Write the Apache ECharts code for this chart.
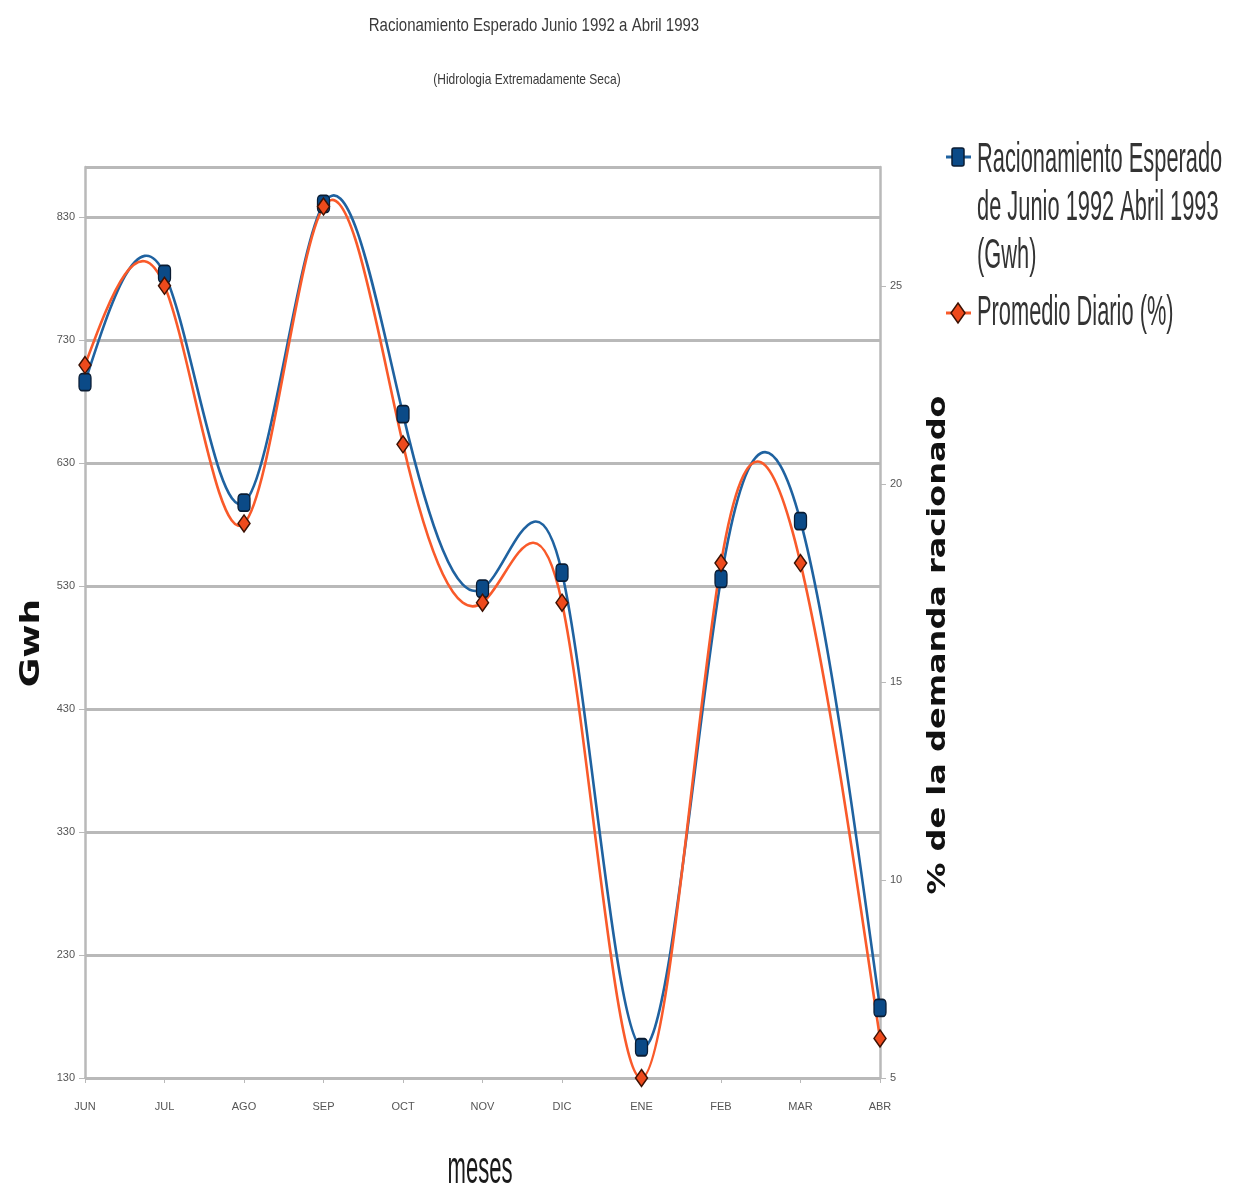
<!DOCTYPE html>
<html>
<head>
<meta charset="utf-8">
<title>Racionamiento Esperado Junio 1992 a Abril 1993</title>
<script src="https://cdn.jsdelivr.net/npm/echarts@6/dist/echarts.min.js"></script>
<style>
  html, body { margin: 0; padding: 0; background: #ffffff; }
  #chart { width: 1237px; height: 1189px; }
</style>
</head>
<body>
<div id="chart"></div>
<script>
// Months from June 1992 to April 1993
const months = ['JUN', 'JUL', 'AGO', 'SEP', 'OCT', 'NOV', 'DIC', 'ENE', 'FEB', 'MAR', 'ABR'];
// Expected rationing (GWh), left axis
const racionamientoGwh = [696, 784, 598, 841, 670, 528, 541, 155, 536, 583, 187];
// Daily average (% of demand rationed), right axis
const promedioDiario = [23, 25, 19, 27, 21, 17, 17, 5, 18, 18, 6];

const gwhAxis = { min: 130, max: 871, interval: 100 };
const pctAxis = { min: 5, max: 28, interval: 5 };

const serieGwh = 'Racionamiento Esperado de Junio 1992 Abril 1993 (Gwh)';
const seriePct = 'Promedio Diario (%)';

const BLUE_LINE = '#1f62a0';
const BLUE_MARK = '#0b4a87';
const ORANGE_LINE = '#f95a2a';
const ORANGE_MARK = '#ee4a1c';

// Natural cubic spline through screen points; returns bezier control points per segment
function splineBeziers(pts) {
  const n = pts.length;
  const x = pts.map(p => p[0]), y = pts.map(p => p[1]);
  const h = [];
  for (let i = 0; i < n - 1; i++) h.push(x[i + 1] - x[i]);
  const M = new Array(n).fill(0);
  if (n > 2) {
    const a = [], b = [], c = [], d = [];
    for (let i = 1; i < n - 1; i++) {
      a.push(h[i - 1]);
      b.push(2 * (h[i - 1] + h[i]));
      c.push(h[i]);
      d.push(6 * ((y[i + 1] - y[i]) / h[i] - (y[i] - y[i - 1]) / h[i - 1]));
    }
    const m = b.length;
    for (let i = 1; i < m; i++) {
      const w = a[i] / b[i - 1];
      b[i] -= w * c[i - 1];
      d[i] -= w * d[i - 1];
    }
    const sol = new Array(m);
    sol[m - 1] = d[m - 1] / b[m - 1];
    for (let i = m - 2; i >= 0; i--) sol[i] = (d[i] - c[i] * sol[i + 1]) / b[i];
    for (let i = 0; i < m; i++) M[i + 1] = sol[i];
  }
  const segs = [];
  for (let i = 0; i < n - 1; i++) {
    const hi = h[i];
    const dy = (y[i + 1] - y[i]) / hi;
    const m0 = dy - hi * (2 * M[i] + M[i + 1]) / 6;
    const m1 = dy + hi * (M[i] + 2 * M[i + 1]) / 6;
    segs.push({
      x1: x[i], y1: y[i],
      cpx1: x[i] + hi / 3, cpy1: y[i] + m0 * hi / 3,
      cpx2: x[i + 1] - hi / 3, cpy2: y[i + 1] - m1 * hi / 3,
      x2: x[i + 1], y2: y[i + 1]
    });
  }
  return segs;
}

function curveSeries(values, axisIndex, color) {
  return {
    type: 'custom',
    yAxisIndex: axisIndex,
    silent: true,
    z: 2,
    clip: false,
    data: values.map((v, i) => [i, v]),
    encode: { x: 0, y: 1 },
    renderItem: function (params, api) {
      const i = params.dataIndex;
      if (i >= values.length - 1) return null;
      const pts = values.map((v, j) => api.coord([j, v]));
      const s = splineBeziers(pts)[i];
      return {
        type: 'bezierCurve',
        shape: s,
        style: { stroke: color, lineWidth: 2.6, fill: null }
      };
    }
  };
}

const chart = echarts.init(document.getElementById('chart'), null, { renderer: 'canvas' });

const gridColor = '#b9b9b9';
const labelStyle = { color: '#555555', fontSize: 11, fontFamily: 'Liberation Sans, sans-serif' };

chart.setOption({
  animation: false,
  backgroundColor: '#ffffff',
  grid: { left: 85, right: 357, top: 167, bottom: 111, containLabel: false },
  xAxis: {
    type: 'category',
    data: months,
    boundaryGap: false,
    axisLine: { show: true, lineStyle: { color: gridColor, width: 2 } },
    axisTick: { show: true, length: 5, lineStyle: { color: gridColor, width: 1 } },
    axisLabel: Object.assign({ margin: 23 }, labelStyle),
    splitLine: { show: false }
  },
  yAxis: [
    {
      type: 'value',
      min: gwhAxis.min, max: gwhAxis.max, interval: gwhAxis.interval,
      position: 'left',
      axisLine: { show: true, lineStyle: { color: gridColor, width: 2.5 } },
      axisTick: { show: true, length: 6, lineStyle: { color: gridColor, width: 1 } },
      axisLabel: Object.assign({ margin: 10, showMaxLabel: false }, labelStyle),
      splitLine: { show: true, lineStyle: { color: gridColor, width: 3 } }
    },
    {
      type: 'value',
      min: pctAxis.min, max: pctAxis.max, interval: pctAxis.interval,
      position: 'right',
      axisLine: { show: true, lineStyle: { color: gridColor, width: 2.5 } },
      axisTick: { show: true, length: 6, lineStyle: { color: gridColor, width: 1 } },
      axisLabel: Object.assign({ margin: 10, showMaxLabel: false }, labelStyle),
      splitLine: { show: false }
    }
  ],
  series: [
    curveSeries(racionamientoGwh, 0, BLUE_LINE),
    curveSeries(promedioDiario, 1, ORANGE_LINE),
    {
      name: serieGwh,
      type: 'line',
      yAxisIndex: 0,
      z: 3,
      data: racionamientoGwh,
      symbol: 'roundRect',
      symbolSize: [12, 17],
      showAllSymbol: true,
      lineStyle: { width: 0, opacity: 0 },
      itemStyle: { color: BLUE_MARK, borderColor: '#0a1c33', borderWidth: 1.5 }
    },
    {
      name: seriePct,
      type: 'line',
      yAxisIndex: 1,
      z: 4,
      data: promedioDiario,
      symbol: 'diamond',
      symbolSize: [12, 17],
      showAllSymbol: true,
      lineStyle: { width: 0, opacity: 0 },
      itemStyle: { color: ORANGE_MARK, borderColor: '#3d1204', borderWidth: 1.5 }
    }
  ],
  graphic: [
    // chart title and subtitle
    {
      type: 'text', x: 534, y: 26, scaleX: 0.79,
      style: {
        text: 'Racionamiento Esperado Junio 1992 a Abril 1993',
        font: '19px "Liberation Sans"', fill: '#3a3a3a',
        align: 'center', verticalAlign: 'middle', textAlign: 'center', textVerticalAlign: 'middle'
      }
    },
    {
      type: 'text', x: 527, y: 80, scaleX: 0.8,
      style: {
        text: '(Hidrologia Extremadamente Seca)',
        font: '15px "Liberation Sans"', fill: '#3a3a3a',
        align: 'center', verticalAlign: 'middle', textAlign: 'center', textVerticalAlign: 'middle'
      }
    },
    // axis titles
    {
      type: 'text', x: 32, y: 643, rotation: Math.PI / 2, scaleY: 0.72,
      style: {
        text: 'Gwh', font: 'bold 36px "DejaVu Sans"', fill: '#111111',
        align: 'center', verticalAlign: 'middle', textAlign: 'center', textVerticalAlign: 'middle'
      }
    },
    {
      type: 'text', x: 938, y: 645, rotation: Math.PI / 2, scaleY: 0.8,
      style: {
        text: '% de la demanda racionado', font: 'bold 32px "DejaVu Sans"', fill: '#111111',
        align: 'center', verticalAlign: 'middle', textAlign: 'center', textVerticalAlign: 'middle'
      }
    },
    {
      type: 'text', x: 480, y: 1170, scaleX: 0.48,
      style: {
        text: 'meses', font: '46px "Liberation Sans"', fill: '#1a1a1a',
        align: 'center', verticalAlign: 'middle', textAlign: 'center', textVerticalAlign: 'middle'
      }
    },
    // legend
    {
      type: 'group',
      children: [
        { type: 'line', shape: { x1: 946, y1: 157, x2: 971, y2: 157 }, style: { stroke: BLUE_LINE, lineWidth: 3 } },
        { type: 'rect', shape: { x: 952, y: 148, width: 12, height: 18, r: 2 }, style: { fill: BLUE_MARK, stroke: '#0a1c33', lineWidth: 1.5 } },
        {
          type: 'text', x: 977, y: 136, scaleX: 0.52,
          style: {
            text: 'Racionamiento Esperado\nde Junio 1992 Abril 1993\n(Gwh)',
            font: '42px "Liberation Sans"', lineHeight: 48, fill: '#333333',
            align: 'left', verticalAlign: 'top', textAlign: 'left', textVerticalAlign: 'top'
          }
        },
        { type: 'line', shape: { x1: 946, y1: 313, x2: 971, y2: 313 }, style: { stroke: ORANGE_LINE, lineWidth: 3 } },
        { type: 'polygon', shape: { points: [[958, 303], [965, 313], [958, 323], [951, 313]] }, style: { fill: ORANGE_MARK, stroke: '#3d1204', lineWidth: 1.5 } },
        {
          type: 'text', x: 977, y: 289, scaleX: 0.52,
          style: {
            text: 'Promedio Diario (%)',
            font: '42px "Liberation Sans"', lineHeight: 48, fill: '#333333',
            align: 'left', verticalAlign: 'top', textAlign: 'left', textVerticalAlign: 'top'
          }
        }
      ]
    }
  ]
});
</script>
</body>
</html>
